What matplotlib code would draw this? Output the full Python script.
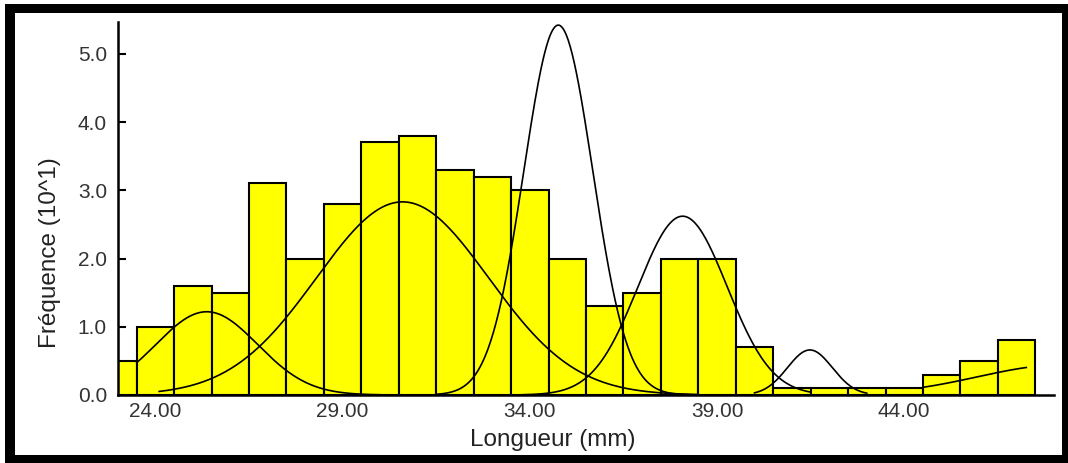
import numpy as np
import matplotlib
matplotlib.use("Agg")
import matplotlib.pyplot as plt
from matplotlib.patches import Rectangle

# histogram: length classes (mm, bin centres) and frequencies (x10)
lengths = [23, 24, 25, 26, 27, 28, 29, 30, 31, 32, 33, 34, 35,
           36, 37, 38, 39, 40, 41, 42, 43, 44, 45, 46, 47]
freq = [0.5, 1.0, 1.6, 1.5, 3.1, 2.0, 2.8, 3.7, 3.8, 3.3, 3.2, 3.0, 2.0,
        1.3, 1.5, 2.0, 2.0, 0.7, 0.1, 0.1, 0.1, 0.1, 0.3, 0.5, 0.8]

# fitted normal components (mean, sd, peak height) and the span each is drawn over
comp_mean = [25.37, 30.6, 34.76, 38.08, 41.48, 48.2]
comp_sd = [1.36, 2.3, 0.92, 1.19, 0.6, 2.24]
comp_peak = [1.22, 2.83, 5.42, 2.62, 0.66, 0.44]
comp_from = [23.5, 24.1, 31.5, 33.8, 40.0, 44.5]
comp_to = [30.0, 38.5, 38.5, 41.5, 43.0, 47.26]

xticks = [24, 29, 34, 39, 44]
yticks = [0, 1, 2, 3, 4, 5]

W, H = 1068, 463
fig = plt.figure(figsize=(W / 100, H / 100), dpi=100)
fig.patch.set_facecolor("white")

ax = fig.add_axes([118 / W, 1 - 395 / H, (1054 - 118) / W, (395 - 21.7) / H])

ax.bar(lengths, freq, width=1.0, color="#FFFF00", edgecolor="black",
       linewidth=1.5, zorder=2)

for m, s, a, x0, x1 in zip(comp_mean, comp_sd, comp_peak, comp_from, comp_to):
    xs = np.linspace(x0, x1, 400)
    ys = a * np.exp(-0.5 * ((xs - m) / s) ** 2)
    ax.plot(xs, ys, color="black", linewidth=1.2, zorder=3)

ax.set_xlim(23, 48)
ax.set_ylim(0, 5.47)

for side in ["top", "right"]:
    ax.spines[side].set_visible(False)
for side in ["left", "bottom"]:
    ax.spines[side].set_linewidth(1.8)
    ax.spines[side].set_zorder(4)

font = "Liberation Sans"
ax.set_xticks(xticks)
ax.set_xticklabels([f"{t:.2f}" for t in xticks], fontsize=15, color="#333333",
                   family=font)
ax.set_yticks(yticks)
ax.set_yticklabels([f"{t:.1f}" for t in yticks], fontsize=15, color="#333333",
                   family=font)
ax.tick_params(axis="y", direction="in", length=6, width=1.5, pad=8)
ax.tick_params(axis="x", direction="in", length=4, width=1.5, pad=5)

fig.text(553 / W, 1 - 440 / H, "Longueur (mm)", fontsize=17.5, family=font,
         color="#222222", ha="center", va="center")
fig.text(50 / W, 1 - 253 / H, "Fréquence (10^1)", fontsize=17.5, family=font,
         color="#222222", ha="center", va="center", rotation=90)

# black frame around the picture
for (x, y, w, h) in [(5, 4, 10, 459), (5, 4, 1063, 9),
                     (1062, 4, 6, 459), (5, 455, 1063, 8)]:
    fig.add_artist(Rectangle((x / W, 1 - (y + h) / H), w / W, h / H,
                             transform=fig.transFigure, color="black",
                             linewidth=0))

fig.savefig("out.png", dpi=100)
